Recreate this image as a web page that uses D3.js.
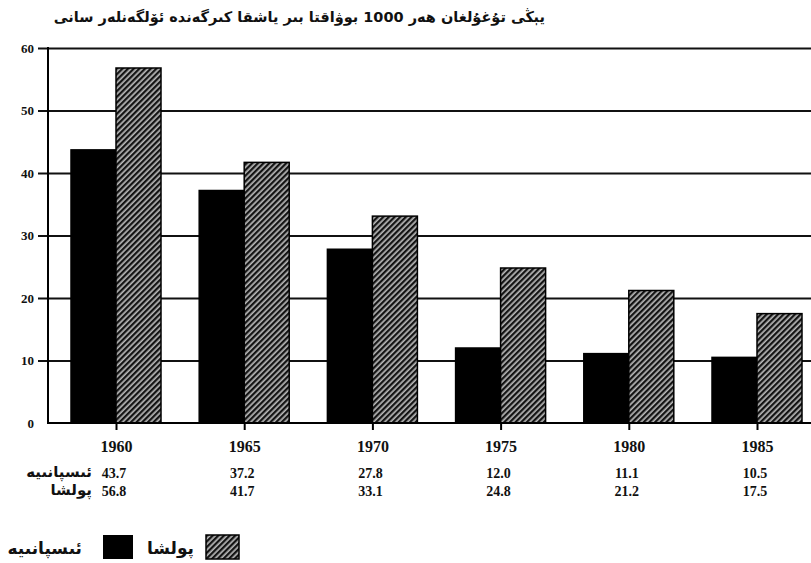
<!DOCTYPE html>
<meta charset="utf-8">
<style>
  body { margin: 0; background: #fff; }
  svg { display: block; }
  .num { font-family: 'Liberation Serif', serif; font-weight: bold; fill: #111; }
  .ug { font-family: 'DejaVu Sans', sans-serif; font-weight: bold; fill: #111; }
</style>
<script src="https://d3js.org/d3.v7.min.js"></script>
<div id="chart"></div>
<script>
  // data
  const years = ["1960", "1965", "1970", "1975", "1980", "1985"];
  const spain = [43.7, 37.2, 27.8, 12.0, 11.1, 10.5];
  const poland = [56.8, 41.7, 33.1, 24.8, 21.2, 17.5];
  const spainLabels = ["43.7", "37.2", "27.8", "12.0", "11.1", "10.5"];
  const polandLabels = ["56.8", "41.7", "33.1", "24.8", "21.2", "17.5"];
  const yTicks = [0, 10, 20, 30, 40, 50, 60];
  const series = ["spain", "poland"];
  const seriesNames = { spain: "ئىسپانىيە", poland: "پولشا" };
  const title = "يېڭى تۇغۇلغان ھەر 1000 بوۋاقتا بىر ياشقا كىرگەندە ئۆلگەنلەر سانى";

  const W = 811, H = 563;
  const plotLeft = 48, plotRight = 811, plotTop = 48, plotBottom = 423;

  const svg = d3.select("#chart").append("svg")
      .attr("width", W).attr("height", H);

  // hatch pattern for Poland
  const pat = svg.append("defs").append("pattern")
      .attr("id", "hatch")
      .attr("patternUnits", "userSpaceOnUse")
      .attr("width", 4).attr("height", 4)
      .attr("patternTransform", "rotate(45)");
  pat.append("rect").attr("width", 4).attr("height", 4).attr("fill", "#b8b8b8");
  pat.append("rect").attr("width", 2.3).attr("height", 4).attr("fill", "#141414");

  const x = d3.scalePoint().domain(years).range([116, 757]);
  const xSub = d3.scaleBand().domain(series).range([-45, 45]);
  const y = d3.scaleLinear().domain([0, 60]).range([plotBottom, plotTop]);

  // title
  svg.append("text").attr("class", "ug")
      .attr("x", 545).attr("y", 22)
      .attr("text-anchor", "end")
      .style("font-size", "14.5px")
      .text(title);

  // grid lines + y ticks
  const yAxis = svg.append("g").attr("transform", `translate(${plotLeft},0)`)
      .call(d3.axisLeft(y).tickValues(yTicks).tickSize(-(plotRight - plotLeft)).tickPadding(14));
  yAxis.select(".domain").remove();
  yAxis.selectAll(".tick line").attr("stroke", "#111").attr("stroke-width", 1.8).attr("x1", -10);
  yAxis.selectAll(".tick text").attr("class", "num").style("font-size", "13px").attr("fill", "#222");
  yAxis.selectAll(".tick").filter(d => d === 0).select("line").remove();

  // bars
  const rows = years.map((yr, i) => ({ year: yr, spain: spain[i], poland: poland[i] }));
  const groups = svg.append("g").selectAll("g").data(rows).join("g")
      .attr("transform", d => `translate(${x(d.year)},0)`);
  groups.selectAll("rect")
      .data(d => series.map(k => ({ key: k, value: d[k] })))
      .join("rect")
      .attr("x", d => xSub(d.key))
      .attr("y", d => y(d.value))
      .attr("width", xSub.bandwidth())
      .attr("height", d => plotBottom - y(d.value))
      .attr("fill", d => d.key === "spain" ? "#000" : "url(#hatch)")
      .attr("stroke", "#000")
      .attr("stroke-width", 1.5);

  // axes lines
  svg.append("line").attr("x1", plotLeft).attr("x2", plotLeft).attr("y1", plotTop - 1).attr("y2", plotBottom + 1)
      .attr("stroke", "#000").attr("stroke-width", 2);
  const xAxis = svg.append("g").attr("transform", `translate(0,${plotBottom})`)
      .call(d3.axisBottom(x).tickSize(7).tickPadding(11));
  xAxis.select(".domain").attr("d", `M${plotLeft},0H${plotRight}`).attr("stroke", "#000").attr("stroke-width", 2);
  xAxis.selectAll(".tick line").attr("stroke", "#000").attr("stroke-width", 2);
  xAxis.selectAll(".tick text").attr("class", "num").style("font-size", "16px");

  // value table
  const table = svg.append("g");
  [[spainLabels, 478, "spain"], [polandLabels, 496, "poland"]].forEach(([labels, yy, key]) => {
    table.selectAll(null).data(years).join("text")
        .attr("class", "num")
        .attr("x", d => x(d) - 2)
        .attr("y", yy)
        .attr("text-anchor", "middle")
        .style("font-size", "14px")
        .text((d, i) => labels[i]);
    table.append("text").attr("class", "ug")
        .attr("x", 92).attr("y", yy - 1)
        .attr("text-anchor", "end")
        .style("font-size", "15px")
        .text(seriesNames[key]);
  });

  // legend (right to left)
  const legend = svg.append("g");
  legend.append("rect").attr("x", 206).attr("y", 535).attr("width", 33).attr("height", 24)
      .attr("fill", "url(#hatch)").attr("stroke", "#000").attr("stroke-width", 1.5);
  legend.append("text").attr("class", "ug").attr("x", 194).attr("y", 554)
      .attr("text-anchor", "end").style("font-size", "17px").text(seriesNames.poland);
  legend.append("rect").attr("x", 103).attr("y", 535).attr("width", 30).attr("height", 24)
      .attr("fill", "#000");
  legend.append("text").attr("class", "ug").attr("x", 82).attr("y", 554)
      .attr("text-anchor", "end").style("font-size", "17px").text(seriesNames.spain);
</script>
